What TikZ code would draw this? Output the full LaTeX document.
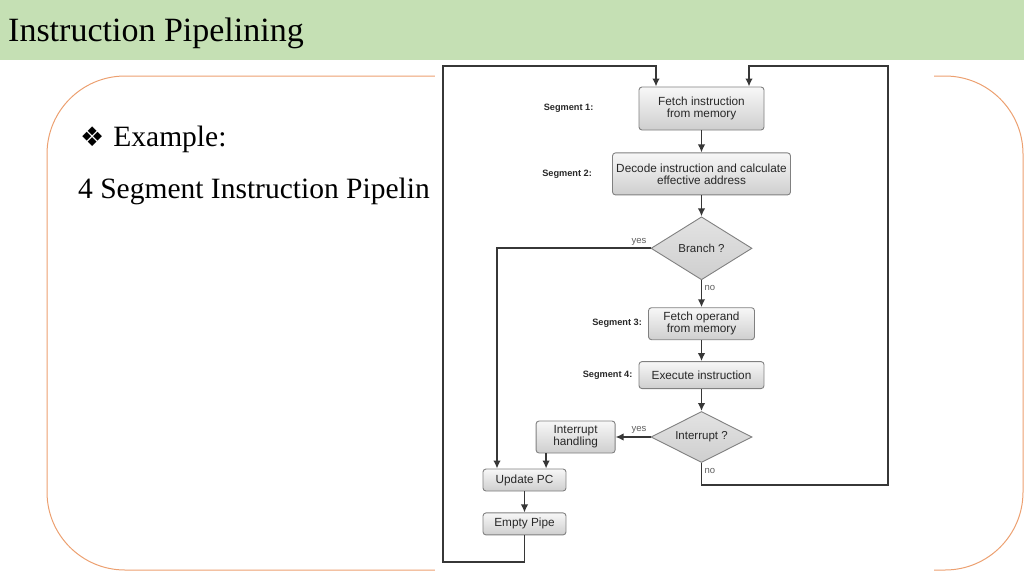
\documentclass[tikz,border=0pt]{standalone}
\usepackage{fontspec}
\setmainfont{Liberation Serif}
\newfontfamily\chartfont{Liberation Sans}
\newfontfamily\symfont{DejaVu Sans}
\usetikzlibrary{arrows.meta,positioning,shapes.geometric}
\definecolor{bandgreen}{RGB}{197,224,180}
\definecolor{frameorange}{RGB}{236,160,112}
\definecolor{boxline}{RGB}{128,128,128}
\definecolor{flowgray}{RGB}{55,55,55}
\definecolor{chartink}{RGB}{40,40,40}

\begin{document}
\begin{tikzpicture}[x=1pt, y=-1pt,
                procbox/.style={draw=boxline, line width=0.9pt, rounded corners=3pt, top color=gray!6, bottom color=gray!38, align=center, inner sep=0pt, text=chartink, font=\chartfont\fontsize{11.8}{12}\selectfont},
                decision/.style={diamond, aspect=2, draw=boxline, line width=0.9pt, top color=gray!22, bottom color=gray!38, inner sep=0pt, text=chartink, font=\chartfont\fontsize{11.5}{12}\selectfont, minimum width=101pt},
                seglabel/.style={anchor=east, inner sep=0pt, text=chartink, font=\chartfont\bfseries\fontsize{9.2}{10}\selectfont},
                answer/.style={inner sep=0pt, text=flowgray!80, font=\chartfont\fontsize{9.5}{10}\selectfont},
                flow/.style={draw=flowgray, line width=1.8pt},
                bus/.style={flow, -{Latex[length=8pt, width=7.5pt]}}
            ]
            \useasboundingbox (0,0) rectangle (1024,576);
            % slide background
            \fill[bandgreen] (0,0) rectangle (1024,60);
            \draw[frameorange, line width=1pt, rounded corners=78pt] (47,76) rectangle (1023,570);
            \node[anchor=base west, inner sep=0pt, font=\fontsize{34}{38}\selectfont] (title) at (8,41) {Instruction Pipelining};
            \node[anchor=base west, inner sep=0pt, font=\fontsize{29.5}{33}\selectfont] (example) at (80,146) {{\symfont\fontsize{27}{27}\selectfont ❖}\hspace{9pt}Example:};
            \node[anchor=base west, inner sep=0pt, font=\fontsize{29.5}{33}\selectfont] (caption) at (78,198) {4 Segment Instruction Pipelin};
            \fill[white] (435,62) rectangle (934,574);
            % flowchart
            \node[procbox, minimum width=125pt, minimum height=43pt] (fetch) at (701.5,108.5) {Fetch instruction\\from memory};
            \node[procbox, minimum width=178pt, minimum height=42pt, below=22pt of fetch] (decode) {Decode instruction and calculate\\effective address};
            \node[decision, minimum height=63pt, below=21pt of decode] (branch) {Branch ?};
            \node[procbox, minimum width=106pt, minimum height=32pt, below=27pt of branch] (operand) {Fetch operand\\from memory};
            \node[procbox, minimum width=125pt, minimum height=27pt, below=21pt of operand] (execute) {Execute instruction};
            \node[decision, minimum height=51pt, below=22pt of execute] (interrupt) {Interrupt ?};
            \node[procbox, minimum width=79pt, minimum height=32pt, left=35pt of interrupt] (handling) {Interrupt\\handling};
            \node[procbox, minimum width=83pt, minimum height=22pt] (update) at (524.5,480) {Update PC};
            \node[procbox, minimum width=83pt, minimum height=22pt, below=21pt of update] (empty) {Empty Pipe};
            \node[seglabel, left=45pt of fetch] (seg1) {Segment 1:};
            \node[seglabel, left=20pt of decode] (seg2) {Segment 2:};
            \node[seglabel, left=6pt of operand] (seg3) {Segment 3:};
            \node[seglabel, left=6pt of execute] (seg4) {Segment 4:};
            \node[answer, anchor=south east] (byes) at ([xshift=-4pt, yshift=3pt]branch.west) {yes};
            \node[answer, anchor=north west] (bno) at ([xshift=3pt, yshift=-5pt]branch.south) {no};
            \node[answer, anchor=south east] (iyes) at ([xshift=-4pt, yshift=3pt]interrupt.west) {yes};
            \node[answer, anchor=north west] (ino) at ([xshift=3pt, yshift=-5pt]interrupt.south) {no};
            \coordinate (topleft) at (443,66);
            \coordinate (topright) at (888,66);
            \draw[bus] (fetch) -- (decode);
            \draw[bus] (decode) -- (branch);
            \draw[bus] (branch) -- (operand);
            \draw[bus] (operand) -- (execute);
            \draw[bus] (execute) -- (interrupt);
            \draw[bus] (interrupt) -- (handling);
            \draw[bus] (branch.west) -| ([xshift=-27.5pt]update.north);
            \draw[bus] ([xshift=-29.5pt]handling.south) -- ([xshift=-29.5pt]handling.south |- update.north);
            \draw[bus] (update) -- (empty);
            \draw[bus] (empty.south) -- ++(0,27) -| (topleft) -| ([xshift=-45.5pt]fetch.north);
            \draw[bus] (interrupt.south) -- ++(0,22) -| (topright) -| ([xshift=47.5pt]fetch.north);
        \end{tikzpicture}
\end{document}
